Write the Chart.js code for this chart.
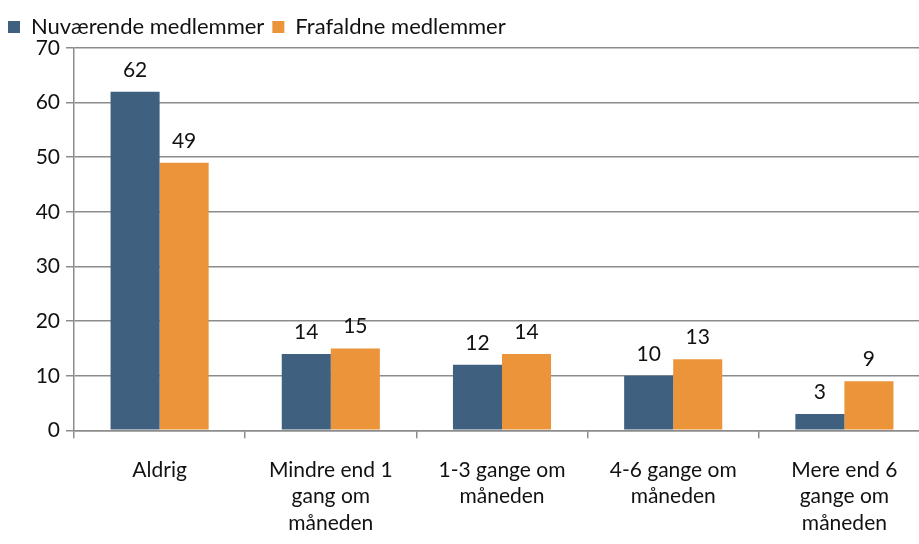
<!DOCTYPE html>
<html lang="da">
<head>
<meta charset="UTF-8">
<title>Medlemmer</title>
<script src="https://cdn.jsdelivr.net/npm/chart.js"></script>
<style>
    html, body { margin: 0; padding: 0; background: #fff; overflow: hidden; }
    #boks { width: 930px; height: 555px; }
</style>
</head>
<body>
<div id="boks"><canvas id="graf"></canvas></div>
<script>
    const kategorier = [
        "Aldrig",
        ["Mindre end 1", "gang om", "måneden"],
        ["1-3 gange om", "måneden"],
        ["4-6 gange om", "måneden"],
        ["Mere end 6", "gange om", "måneden"]
    ];
    const nuvaerende = [62, 14, 12, 10, 3];
    const frafaldne = [49, 15, 14, 13, 9];
    const yTicks = [0, 10, 20, 30, 40, 50, 60, 70];

    const skrift = "Lato, 'Open Sans', sans-serif";

    const vaerdiEtiketter = {
        id: 'vaerdiEtiketter',
        afterDatasetsDraw(chart) {
            const ctx = chart.ctx;
            ctx.save();
            ctx.font = "21px " + skrift;
            ctx.fillStyle = "#111";
            ctx.textAlign = "center";
            ctx.textBaseline = "alphabetic";
            chart.data.datasets.forEach((ds, i) => {
                chart.getDatasetMeta(i).data.forEach((bar, j) => {
                    ctx.fillText(ds.data[j], bar.x, bar.y - 15);
                });
            });
            ctx.restore();
        }
    };

    new Chart(document.getElementById("graf"), {
        type: 'bar',
        data: {
            labels: kategorier,
            datasets: [{
                label: 'Nuværende medlemmer',
                data: nuvaerende,
                backgroundColor: '#40607f'
            }, {
                label: 'Frafaldne medlemmer',
                data: frafaldne,
                backgroundColor: '#eb943a'
            }]
        },
        options: {
            responsive: true,
            maintainAspectRatio: false,
            animation: false,
            categoryPercentage: 0.573,
            barPercentage: 1,
            layout: { padding: { left: 0, right: 0, top: 8, bottom: 0 } },
            plugins: {
                tooltip: { enabled: false },
                legend: {
                    position: 'top',
                    align: 'start',
                    labels: {
                        boxWidth: 12,
                        boxHeight: 12,
                        padding: 8,
                        color: '#111',
                        font: { family: skrift, size: 22 }
                    }
                }
            },
            scales: {
                x: {
                    grid: {
                        drawOnChartArea: false,
                        drawTicks: true,
                        tickLength: 8,
                        color: '#8c8c8c',
                        lineWidth: 1.5
                    },
                    border: { color: '#8c8c8c', width: 1.5 },
                    ticks: {
                        color: '#111',
                        padding: 18,
                        maxRotation: 0,
                        autoSkip: false,
                        font: { family: skrift, size: 21, lineHeight: 1.28 }
                    }
                },
                y: {
                    min: 0,
                    max: 70,
                    afterBuildTicks(axis) {
                        axis.ticks = yTicks.map(v => ({ value: v }));
                    },
                    afterFit(axis) {
                        axis.width = 74;
                    },
                    grid: {
                        color: '#8c8c8c',
                        lineWidth: 1.5,
                        tickLength: 8
                    },
                    border: { color: '#8c8c8c', width: 1.5 },
                    ticks: {
                        color: '#111',
                        padding: 6,
                        font: { family: skrift, size: 21 }
                    }
                }
            }
        },
        plugins: [vaerdiEtiketter]
    });
</script>
</body>
</html>
